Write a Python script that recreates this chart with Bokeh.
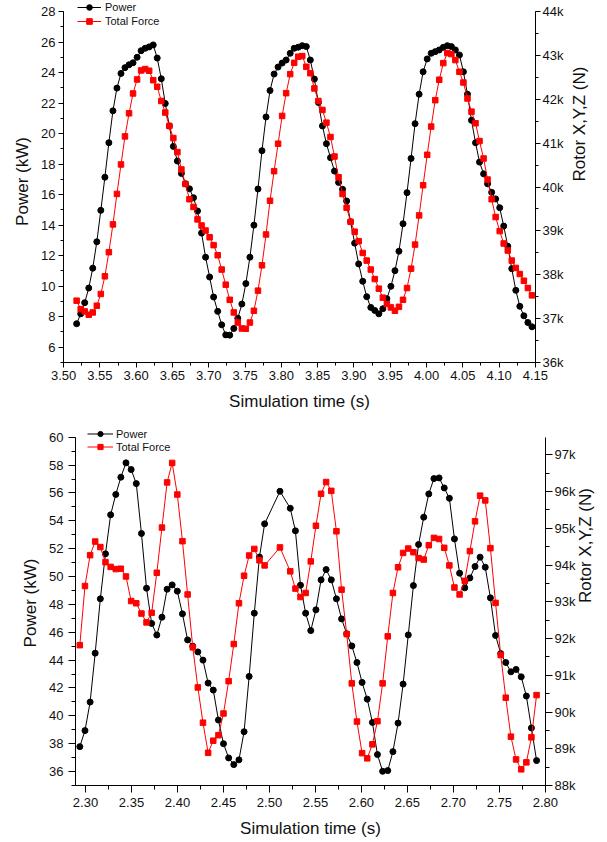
import math
from bokeh.plotting import figure
from bokeh.models import (Range1d, LinearAxis, SingleIntervalTicker, PrintfTickFormatter,
                          CustomJSTickFormatter, Legend, LegendItem)
from bokeh.embed import file_html
from bokeh.resources import INLINE

# ---------------- top chart data ----------------
top_time = [3.5180, 3.5236, 3.5291, 3.5347, 3.5402, 3.5458, 3.5513, 3.5569, 3.5624, 3.5680,
            3.5735, 3.5791, 3.5846, 3.5902, 3.5957, 3.6013, 3.6068, 3.6124, 3.6179, 3.6235,
            3.6290, 3.6346, 3.6401, 3.6457, 3.6512, 3.6568, 3.6623, 3.6679, 3.6734, 3.6790,
            3.6845, 3.6901, 3.6956, 3.7012, 3.7067, 3.7123, 3.7178, 3.7234, 3.7289, 3.7345,
            3.7400, 3.7456, 3.7511, 3.7567, 3.7622, 3.7678, 3.7733, 3.7789, 3.7844, 3.7900,
            3.7955, 3.8011, 3.8066, 3.8122, 3.8177, 3.8233, 3.8288, 3.8344, 3.8399, 3.8455,
            3.8510, 3.8566, 3.8621, 3.8677, 3.8732, 3.8788, 3.8843, 3.8899, 3.8954, 3.9010,
            3.9065, 3.9121, 3.9176, 3.9232, 3.9287, 3.9343, 3.9398, 3.9454, 3.9509, 3.9565,
            3.9620, 3.9676, 3.9731, 3.9787, 3.9842, 3.9898, 3.9953, 4.0009, 4.0064, 4.0120,
            4.0175, 4.0231, 4.0286, 4.0342, 4.0397, 4.0453, 4.0508, 4.0564, 4.0619, 4.0675,
            4.0730, 4.0786, 4.0841, 4.0897, 4.0952, 4.1008, 4.1063, 4.1119, 4.1174, 4.1230,
            4.1285, 4.1341, 4.1396, 4.1452]
top_power = [7.54, 8.19, 8.92, 9.88, 11.18, 12.91, 14.97, 17.14, 19.4, 21.49,
             22.98, 23.94, 24.32, 24.51, 24.64, 25.0, 25.43, 25.59, 25.68, 25.81,
             24.95, 23.59, 21.97, 20.5, 19.16, 18.2, 17.39, 16.71, 16.38, 15.8,
             14.93, 13.48, 11.9, 10.6, 9.29, 8.35, 7.47, 6.81, 6.79, 7.23,
             7.9, 8.83, 10.17, 11.9, 14.0, 16.37, 18.88, 21.09, 22.82, 23.9,
             24.36, 24.62, 24.82, 25.26, 25.59, 25.66, 25.76, 25.7, 24.82, 23.57,
             22.04, 20.5, 19.34, 18.42, 17.54, 16.8, 16.35, 15.58, 14.22, 12.82,
             11.46, 10.32, 9.31, 8.61, 8.41, 8.19, 8.52, 9.18, 9.99, 11.02,
             12.29, 14.09, 16.13, 18.37, 20.65, 22.58, 24.05, 24.89, 25.26, 25.37,
             25.48, 25.65, 25.76, 25.7, 25.48, 25.15, 24.05, 22.58, 20.87, 19.4,
             18.13, 17.36, 16.71, 16.15, 15.72, 15.14, 13.94, 12.62, 11.15, 9.73,
             8.68, 8.06, 7.62, 7.34]
top_force = [37409, 37217, 37165, 37089, 37141, 37294, 37562, 37965, 38515, 39148,
             39843, 40514, 41154, 41680, 42132, 42452, 42657, 42688, 42650, 42434,
             42285, 41961, 41697, 41391, 41116, 40796, 40400, 40069, 39721, 39544,
             39262, 39123, 39008, 38855, 38675, 38445, 38118, 37774, 37429, 37141,
             36911, 36776, 36769, 36911, 37179, 37638, 38215, 38918, 39687, 40361,
             40987, 41620, 42139, 42573, 42831, 42970, 42984, 42740, 42594, 42247,
             41961, 41756, 41467, 41140, 40695, 40222, 39840, 39527, 39207, 38981,
             38765, 38497, 38323, 38118, 37902, 37683, 37478, 37332, 37256, 37179,
             37269, 37429, 37697, 38139, 38688, 39353, 40041, 40734, 41377, 41979,
             42445, 42824, 43053, 43029, 42893, 42626, 42382, 42017, 41718, 41453,
             41047, 40650, 40170, 39721, 39315, 38995, 38713, 38553, 38323, 38156,
             38017, 37864, 37697, 37530]

# ---------------- bottom chart data ----------------
bot_time = [2.2938, 2.2994, 2.3050, 2.3105, 2.3161, 2.3217, 2.3273, 2.3329, 2.3384, 2.3440,
            2.3496, 2.3552, 2.3608, 2.3663, 2.3719, 2.3775, 2.3831, 2.3887, 2.3942, 2.3998,
            2.4054, 2.4110, 2.4166, 2.4221, 2.4277, 2.4333, 2.4389, 2.4445, 2.4500, 2.4556,
            2.4612, 2.4668, 2.4724, 2.4779, 2.4835, 2.4891, 2.4947,
            2.5114,
            2.5226, 2.5282, 2.5337, 2.5393, 2.5449, 2.5505, 2.5561, 2.5616, 2.5672, 2.5728,
            2.5784, 2.5840, 2.5895, 2.5951, 2.6007, 2.6063, 2.6119, 2.6174, 2.6230, 2.6286,
            2.6342, 2.6398, 2.6453, 2.6509, 2.6565, 2.6621, 2.6677, 2.6732, 2.6788, 2.6844,
            2.6900, 2.6956, 2.7011, 2.7067, 2.7123, 2.7179, 2.7235, 2.7290, 2.7346, 2.7402,
            2.7458, 2.7514, 2.7569, 2.7625, 2.7681, 2.7737, 2.7793, 2.7848, 2.7904]
bot_power = [37.79, 38.94, 40.99, 44.5, 48.4, 51.63, 54.43, 55.89, 57.13, 58.16,
             57.68, 56.67, 53.09, 49.16, 46.63, 45.8, 47.08, 49.09, 49.4, 48.95,
             47.32, 45.45, 45.0, 44.59, 44.0, 42.35, 41.85, 39.7, 38.0, 36.98,
             36.5, 36.84, 38.86, 42.83, 47.37, 51.4, 53.78,
             56.12,
             54.9, 53.28, 49.38, 47.37, 46.12, 47.61, 49.76, 50.5, 49.76, 48.4,
             46.96, 45.89, 45.02, 43.83, 42.4, 41.2, 39.53, 37.22, 36.02, 36.07,
             37.43, 39.48, 42.28, 45.81, 49.35, 52.3, 54.26, 55.93, 57.03, 57.08,
             56.36, 55.62, 52.7, 50.24, 49.19, 49.9, 50.72, 51.39, 50.67, 48.47,
             45.77, 44.47, 43.83, 43.16, 43.33, 42.8, 41.42, 39.13, 36.79]
bot_force = [91820, 93430, 94270, 94640, 94490, 94080, 93950, 93890, 93900, 93690,
             93020, 92960, 92680, 92440, 92700, 93790, 95020, 96250, 96780, 95920,
             94650, 93200, 91760, 90670, 89710, 88890, 89220, 89370, 89960, 90840,
             91850, 92960, 93710, 94260, 94440, 94130, 93990,
             94480,
             93830, 93360, 93130, 93240, 94100, 95070, 95940, 96260, 96020, 94920,
             93330, 92120, 90780, 89740, 88880, 88740, 89120, 89750, 90780, 92060,
             93240, 93940, 94330, 94450, 94350, 94190, 94150, 94540, 94740, 94710,
             94470, 93990, 93390, 93200, 93570, 94380, 95190, 95890, 95760, 94460,
             92970, 91550, 90390, 89330, 88710, 88440, 88630, 89310, 90460]

FONT = "Liberation Sans"


def style_axis(ax, tick_size, tick_out, minor_out, standoff, label_standoff):
    ax.axis_line_color = "black"
    ax.axis_line_width = 1
    ax.major_tick_line_color = "black"
    ax.minor_tick_line_color = "black"
    ax.major_tick_in = 0
    ax.major_tick_out = tick_out
    ax.minor_tick_in = 0
    ax.minor_tick_out = minor_out
    ax.major_label_text_font = FONT
    ax.major_label_text_font_size = tick_size
    ax.major_label_text_color = "#111111"
    ax.major_label_standoff = standoff
    ax.axis_label_text_font = FONT
    ax.axis_label_text_font_size = "17px"
    ax.axis_label_text_font_style = "normal"
    ax.axis_label_text_color = "#111111"
    ax.axis_label_standoff = label_standoff


def make_chart(t, pw, fc, xr, yr, ybounds, fr, fbounds, height, borders, tick_size,
               tick_out, minor_out, standoff, leg_loc, leg_gw, leg_gh, leg_so,
               l_standoff, r_standoff):
    bl, br, bt, bb = borders
    p = figure(width=607, height=height, output_backend="svg", toolbar_location=None,
               x_range=Range1d(*xr), y_range=Range1d(*yr),
               min_border_left=bl, min_border_right=br, min_border_top=bt, min_border_bottom=bb,
               x_axis_location=None, y_axis_location=None)
    p.outline_line_color = None
    p.xgrid.visible = False
    p.ygrid.visible = False
    p.background_fill_color = "white"
    p.border_fill_color = "white"
    p.extra_y_ranges = {"force": Range1d(*fr)}

    xax = LinearAxis(ticker=SingleIntervalTicker(interval=0.05, num_minor_ticks=2),
                     formatter=PrintfTickFormatter(format="%.2f"),
                     axis_label="Simulation time (s)")
    style_axis(xax, tick_size, tick_out, minor_out, standoff, 9)
    p.add_layout(xax, "below")

    yax = LinearAxis(ticker=SingleIntervalTicker(interval=2, num_minor_ticks=2),
                     formatter=PrintfTickFormatter(format="%d"),
                     axis_label="Power (kW)", bounds=ybounds)
    style_axis(yax, tick_size, tick_out, minor_out, standoff, l_standoff)
    p.add_layout(yax, "left")

    rax = LinearAxis(y_range_name="force",
                     ticker=SingleIntervalTicker(interval=1000, num_minor_ticks=2),
                     formatter=CustomJSTickFormatter(code="return (tick/1000).toFixed(0) + 'k';"),
                     axis_label="Rotor X,Y,Z (N)", bounds=fbounds)
    style_axis(rax, tick_size, tick_out, minor_out, 2, r_standoff)
    rax.axis_label_orientation = math.pi / 2
    p.add_layout(rax, "right")

    pl = p.line(t, pw, line_color="black", line_width=1)
    ps = p.scatter(t, pw, marker="circle", size=6, fill_color="black", line_color="black")
    fl = p.line(t, fc, line_color="#ff0000", line_width=1, y_range_name="force")
    fs = p.scatter(t, fc, marker="square", size=5.5, fill_color="#ff0000", line_color="#ff0000",
                   y_range_name="force")

    leg = Legend(items=[LegendItem(label="Power", renderers=[pl, ps]),
                        LegendItem(label="Total Force", renderers=[fl, fs])],
                 location=leg_loc, orientation="vertical")
    leg.border_line_color = None
    leg.background_fill_alpha = 0
    leg.padding = 0
    leg.margin = 0
    leg.spacing = 0
    leg.glyph_width = leg_gw
    leg.glyph_height = leg_gh
    leg.label_height = leg_gh
    leg.label_standoff = leg_so
    leg.label_text_font = FONT
    leg.label_text_font_size = "11px"
    leg.label_text_color = "#111111"
    p.add_layout(leg)
    return p


# top: frame spans page y 0..362; axis lines stop at 28 kW / 44k N (page y 11)
p1 = make_chart(top_time, top_power, top_force,
                (3.4999, 4.1501), (5, 28.72), (5, 28), (36000, 44251), (36000, 44000),
                420, (63, 72, 0, 58), "13px", 5, 3, 3,
                (14, 334), 24, 14, 4, 6, 13)
# bottom: frame spans page y 420..784; axis lines stop at 60 kW / 97.48k N
p2 = make_chart(bot_time, bot_power, bot_force,
                (2.2891, 2.8001), (35, 61.2), (35, 60), (88000, 97935), (88000, 97480),
                422, (75, 62, 0, 57), "13px", 7, 4, 5,
                (12, 332), 26, 13, 3, 6, 7)

# two independent roots stacked on the page (no frame alignment between them)
open("out.html", "w").write(file_html([p1, p2], INLINE))
